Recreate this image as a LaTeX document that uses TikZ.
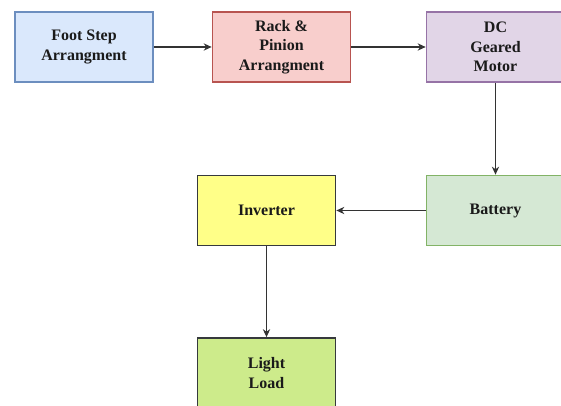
\documentclass[tikz,border=0pt]{standalone}
\usepackage{fontspec}
\setmainfont{Liberation Serif}
\usetikzlibrary{arrows.meta}
\definecolor{fbF}{HTML}{DAE8FC}\definecolor{fbD}{HTML}{6C8EBF}
\definecolor{rkF}{HTML}{F8CECC}\definecolor{rkD}{HTML}{B85450}
\definecolor{dcF}{HTML}{E1D5E7}\definecolor{dcD}{HTML}{9673A6}
\definecolor{btF}{HTML}{D5E8D4}\definecolor{btD}{HTML}{82B366}
\definecolor{ivF}{HTML}{FFFF88}\definecolor{ivD}{HTML}{36393D}
\definecolor{llF}{HTML}{CDEB8B}\definecolor{llD}{HTML}{36393D}
\definecolor{txt}{HTML}{1A1A1A}
\definecolor{lnk}{HTML}{333333}
\tikzset{
  blockbox/.style={draw, line width=1.3pt, minimum width=103.5pt, minimum height=52.5pt,
    align=center, text=txt, font=\bfseries\fontsize{12}{14.5}\selectfont, inner sep=0pt},
  link/.style={draw=lnk, line width=0.8pt, -{Stealth[length=6pt,width=5.5pt]}}
}
\begin{document}
\begin{tikzpicture}[x=0.75pt,y=-0.75pt]
\useasboundingbox (0,0) rectangle (561,406);
\clip (0,0) rectangle (561,406);
\node[blockbox, fill=fbF, draw=fbD] (foot) at (84,47) {Foot Step\\Arrangment};
\node[blockbox, fill=rkF, draw=rkD] (rack) at (281.5,47) {Rack \&\\Pinion\\Arrangment};
\node[blockbox, fill=dcF, draw=dcD] (dc) at (495.5,47) {DC\\Geared\\Motor};
\node[blockbox, fill=btF, draw=btD] (bat) at (495.5,210.5) {Battery};
\node[blockbox, fill=ivF, draw=ivD] (inv) at (266.5,210.5) {Inverter};
\node[blockbox, fill=llF, draw=llD] (light) at (266.5,373) {Light\\Load};
\draw[link] (foot) -- (rack);
\draw[link] (rack) -- (dc);
\draw[link] (dc) -- (bat);
\draw[link] (bat) -- (inv);
\draw[link] (inv) -- (light);
\end{tikzpicture}
\end{document}
